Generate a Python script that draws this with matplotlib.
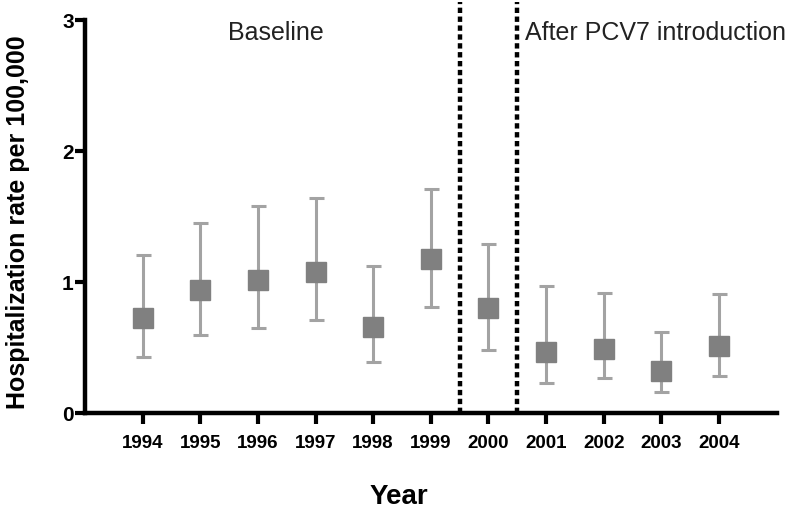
import numpy as np
import matplotlib
matplotlib.use("Agg")
import matplotlib.pyplot as plt

# --- data ---
years = [1994, 1995, 1996, 1997, 1998, 1999, 2000, 2001, 2002, 2003, 2004]
rate  = [0.73, 0.94, 1.02, 1.08, 0.66, 1.18, 0.80, 0.47, 0.49, 0.32, 0.51]
upper = [1.21, 1.45, 1.58, 1.64, 1.12, 1.71, 1.29, 0.97, 0.92, 0.62, 0.91]
lower = [0.43, 0.60, 0.65, 0.71, 0.39, 0.81, 0.48, 0.23, 0.27, 0.16, 0.28]
period_breaks = [1999.5, 2000.5]

INK = "#000000"
MARKER = "#808080"
BAR = "#a3a3a3"

plt.rcParams.update({
    "font.family": ["Liberation Sans", "DejaVu Sans"],
    "axes.linewidth": 3.2,
    "xtick.major.width": 3.0, "ytick.major.width": 3.0,
    "xtick.major.size": 8, "ytick.major.size": 7,
})

fig = plt.figure(figsize=(8.09, 5.19), dpi=100)
ax = fig.add_axes([0.105, 0.204, 0.855, 0.757])

y = np.array(rate)
yerr = [y - np.array(lower), np.array(upper) - y]
ax.errorbar(years, y, yerr=yerr, fmt="none", ecolor=BAR, elinewidth=2.2,
            capsize=5.4, capthick=2.2, zorder=2)
ax.plot(years, y, ls="none", marker="s", ms=14.5, mfc=MARKER, mec=MARKER, zorder=3)

# period boundaries
for xb in period_breaks:
    ax.axvline(xb, ymin=0, ymax=1.046, color=INK, lw=3.2,
               ls=(0, (1.2, 0.8)), clip_on=False, zorder=4)

ax.text(1996.32, 2.9, "Baseline", fontsize=18, ha="center", va="center", color="#222")
ax.text(2000.63, 2.9, "After PCV7 introduction", fontsize=18, ha="left",
        va="center", color="#222")

ax.set_xlim(1993, 2005)
ax.set_ylim(0, 3)
ax.set_xticks(years)
ax.set_xticklabels([str(v) for v in years], fontsize=13.5, fontweight="bold")
ax.set_yticks([0, 1, 2, 3])
ax.set_yticklabels(["0", "1", "2", "3"], fontsize=15, fontweight="bold")
ax.tick_params(axis="x", pad=8)
ax.tick_params(axis="y", pad=1)

for s in ["top", "right"]:
    ax.spines[s].set_visible(False)

ax.set_ylabel("Hospitalization rate per 100,000", fontsize=18, fontweight="bold")
ax.yaxis.set_label_coords(-0.08, 0.486)
ax.set_xlabel("Year", fontsize=20, fontweight="bold")
ax.xaxis.set_label_coords(0.454, -0.18)

fig.savefig("out.png", dpi=100)
